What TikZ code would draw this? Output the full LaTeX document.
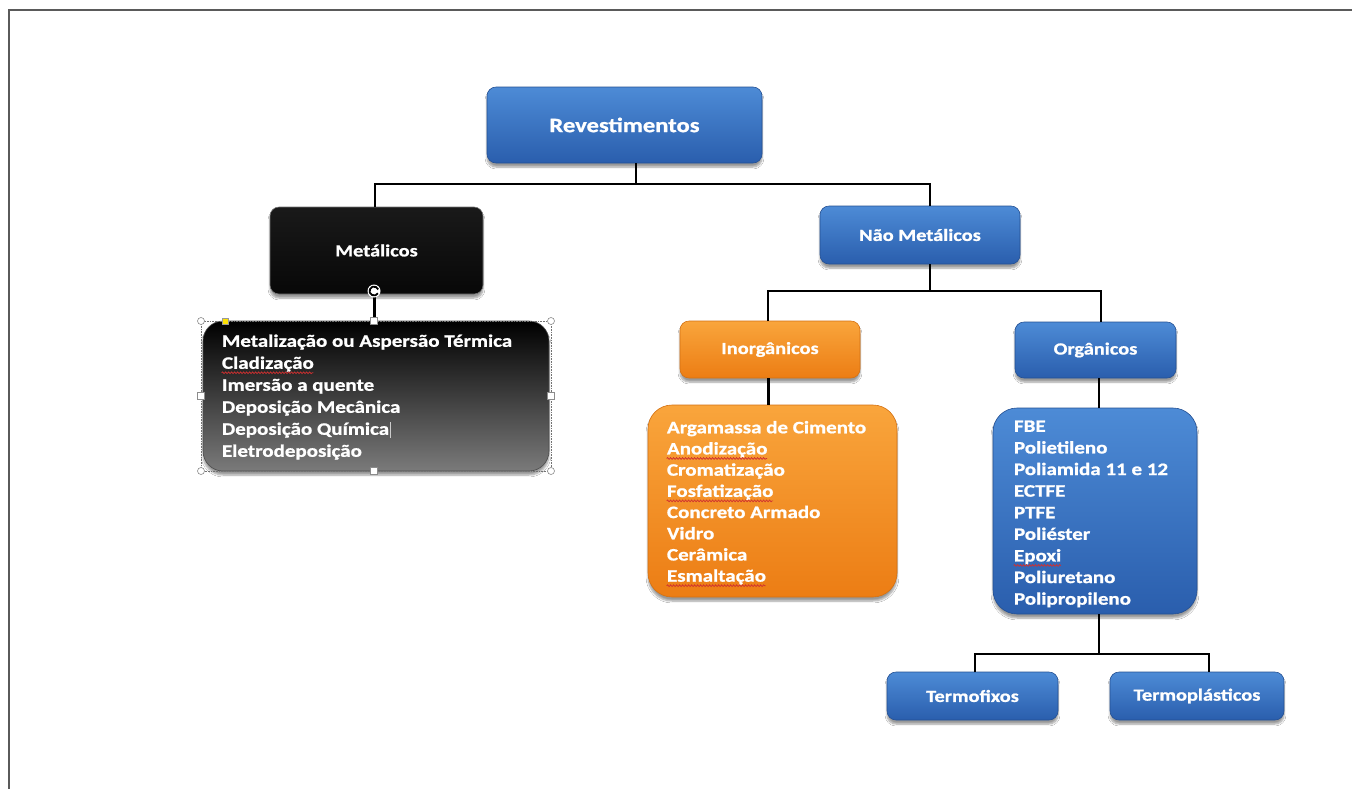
\documentclass[tikz,border=0pt]{standalone}
\usepackage{fontspec}
\setmainfont{Carlito}
\newfontfamily\boxfont{Carlito}[FakeStretch=1.2, FakeBold=1]
\usetikzlibrary{shadows.blur,decorations.pathmorphing}

\definecolor{bluetop}{HTML}{4D8BD6}
\definecolor{bluebot}{HTML}{2A5EAD}
\definecolor{orangetop}{HTML}{F9A53C}
\definecolor{orangebot}{HTML}{EC7D14}
\definecolor{spellred}{HTML}{D03030}
\definecolor{framegray}{HTML}{5A5A5A}

% red wavy underline, as left by a spelling checker
\newsavebox\spellbox
\newcommand\spellmark[1]{\sbox\spellbox{#1}\usebox\spellbox\llap{\tikz[baseline=0pt,x=1pt,y=1pt]
  \draw[spellred, line width=0.7pt, decorate, decoration={snake, amplitude=0.9pt, segment length=3pt}]
  (0,-4) -- (\wd\spellbox,-4);}}

\begin{document}
\begin{tikzpicture}[x=1pt,y=-1pt,
  conn/.style={draw=black,line width=2.4pt},
  boxbase/.style={rounded corners=9pt, inner sep=0pt, outer sep=0pt, text=white,
    font=\boxfont\bfseries\fontsize{17}{20}\selectfont,
    blur shadow={shadow xshift=0pt,shadow yshift=-4pt,shadow blur steps=6,shadow opacity=40}},
  bluebox/.style={boxbase, top color=bluetop, bottom color=bluebot, draw=bluebot!85!black, line width=0.6pt},
  orangebox/.style={boxbase, top color=orangetop, bottom color=orangebot, draw=orangebot!90!black, line width=0.6pt},
  blackbox/.style={boxbase, top color=black!90, middle color=black, bottom color=black!97, draw=black!55, line width=0.6pt},
  greybox/.style={boxbase, top color=black, middle color=black!95, bottom color=black!52, draw=black!70, line width=0.6pt},
  listtext/.style={anchor=north west, align=left, inner sep=0pt, outer sep=0pt, text=white},
  handlecirc/.style={circle, draw=black!45, fill=white, line width=0.6pt, inner sep=0pt, minimum size=7pt},
  handlesq/.style={rectangle, draw=black!45, fill=white, line width=0.6pt, inner sep=0pt, minimum size=7pt},
]
\useasboundingbox (0,0) rectangle (1352,788);
\fill[white] (-5,-5) rectangle (1360,795);
% page frame
\draw[framegray, line width=2pt] (9,800) -- (9,9.5) -- (1365,9.5);

% boxes
\node[bluebox, minimum width=275pt, minimum height=76pt,
      font=\boxfont\bfseries\fontsize{20.5}{24}\selectfont] (rev) at (624.5,125) {Revestimentos};
\node[blackbox, minimum width=213pt, minimum height=87pt] (met) at (376.5,250.5) {Metálicos};
\node[bluebox, minimum width=200pt, minimum height=58pt] (naomet) at (920,235) {Não Metálicos};
\node[orangebox, minimum width=180pt, minimum height=57pt] (inorg) at (770,349.5) {Inorgânicos};
\node[bluebox, minimum width=161pt, minimum height=56pt] (org) at (1095.5,350) {Orgânicos};
\node[bluebox, minimum width=171pt, minimum height=48pt] (tfix) at (972.5,696) {Termofixos};
\node[bluebox, minimum width=174pt, minimum height=48pt] (tplast) at (1197,696) {Termoplásticos};

% list boxes
\node[greybox, rounded corners=20pt, minimum width=346pt, minimum height=150pt] (metlist) at (376,396) {};
\node[orangebox, rounded corners=24pt, minimum width=249pt, minimum height=192pt] (inorglist) at (772.5,501) {};
\node[bluebox, rounded corners=24pt, minimum width=204pt, minimum height=206pt] (orglist) at (1095,511) {};

\node[listtext, font=\boxfont\bfseries\fontsize{17.5}{22}\selectfont] (mettxt) at (222,334.5)
 {Metalização ou Aspersão Térmica\\
  \spellmark{Cladização}\\
  Imersão a quente\\
  Deposição Mecânica\\
  Deposição Química\kern1pt\textcolor{white!80!black}{\rule[-3pt]{0.8pt}{16pt}}\\
  Eletrodeposição};
\node[listtext, font=\boxfont\bfseries\fontsize{17.5}{21.2}\selectfont] (inorgtxt) at (667,421)
 {Argamassa de Cimento\\
  \spellmark{Anodização}\\
  Cromatização\\
  \spellmark{Fosfatização}\\
  Concreto Armado\\
  Vidro\\
  Cerâmica\\
  \spellmark{Esmaltação}};
\node[listtext, font=\boxfont\bfseries\fontsize{17.5}{21.6}\selectfont] (orgtxt) at (1014,420.5)
 {FBE\\
  Polietileno\\
  Poliamida 11 e 12\\
  ECTFE\\
  PTFE\\
  Poliéster\\
  \spellmark{Epoxi}\\
  Poliuretano\\
  Polipropileno};

% connectors
\draw[conn] ([xshift=11.5pt]rev.south) -- ++(0,21) coordinate (busA);
\draw[conn] ([xshift=-1.5pt]met.north) |- (busA) -| ([xshift=10pt]naomet.north);
\draw[conn] ([xshift=10pt]naomet.south) -- ++(0,27) coordinate (busB);
\draw[conn] ([xshift=-2pt]inorg.north) |- (busB) -| ([xshift=5.5pt]org.north);
\draw[conn] ([xshift=-1.5pt]inorg.south) -- ([xshift=-1.5pt]inorg.south |- inorglist.north);
\draw[conn] ([xshift=3.5pt]org.south) -- ([xshift=3.5pt]org.south |- orglist.north);
\draw[conn] ([xshift=4pt]orglist.south) -- ++(0,40) coordinate (busC);
\draw[conn] ([xshift=2.5pt]tfix.north) |- (busC) -| ([xshift=12pt]tplast.north);
\draw[conn] ([xshift=-2pt]met.south) -- ([xshift=-2pt]met.south |- metlist.north);

% selection handles around the Metálicos list
\draw[black!55, densely dotted, line width=0.6pt]
  ([xshift=-2pt]metlist.north west) rectangle ([xshift=2pt]metlist.south east);
\foreach \a/\dx in {north west/-2, north east/2, south west/-2, south east/2}
  \node[handlecirc] at ([xshift=\dx pt]metlist.\a) {};
\foreach \a/\dx in {north/-2, south/-2, west/-2, east/2}
  \node[handlesq] at ([xshift=\dx pt]metlist.\a) {};
\node[rectangle, fill=yellow!85!orange, draw=black!40, line width=0.4pt, inner sep=0pt, minimum size=6pt]
  at ([xshift=22pt]metlist.north west) {};
% rotation handle
\node[circle, fill=white, inner sep=0pt, minimum size=13pt] (rot) at (374,291) {};
\draw[black, line width=1.8pt] (rot.center) ++(20:4.5pt) arc[start angle=20, end angle=330, radius=4.5pt];
\end{tikzpicture}
\end{document}
